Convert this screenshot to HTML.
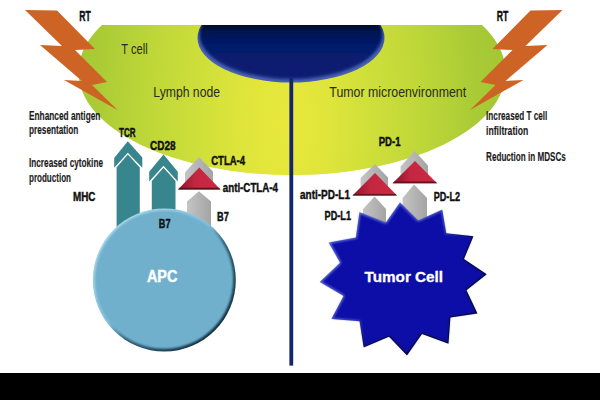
<!DOCTYPE html>
<html><head><meta charset="utf-8"><title>RT immunotherapy diagram</title>
<style>
html,body{margin:0;padding:0;background:#fff;}
body{width:600px;height:400px;overflow:hidden;position:relative;}
svg{display:block;position:absolute;left:0;top:0;}
.b{font-family:"Liberation Sans",sans-serif;font-weight:700;fill:#101010;}
.r{font-family:"Liberation Sans",sans-serif;font-weight:400;fill:#2a2a20;}
.w{font-family:"Liberation Sans",sans-serif;font-weight:700;fill:#fff;}
</style></head><body>
<svg width="600" height="400" viewBox="0 0 600 400">
<defs>
<radialGradient id="gg" gradientUnits="userSpaceOnUse" cx="285" cy="125" r="215" gradientTransform="translate(0 -125) scale(1 2)">
<stop offset="0" stop-color="#e8e83c"/><stop offset="0.2" stop-color="#e0e53b"/><stop offset="0.4" stop-color="#cfdf3a"/><stop offset="0.64" stop-color="#bed738"/><stop offset="0.88" stop-color="#aacb36"/><stop offset="1" stop-color="#a4c735"/>
</radialGradient>
<radialGradient id="ng" gradientUnits="userSpaceOnUse" cx="290" cy="30" r="95" gradientTransform="translate(0 17) scale(1 0.44)">
<stop offset="0" stop-color="#0d1450"/><stop offset="0.7" stop-color="#121a5e"/><stop offset="1" stop-color="#1f3590"/>
</radialGradient>
<radialGradient id="ag" gradientUnits="userSpaceOnUse" cx="158" cy="274" r="78">
<stop offset="0" stop-color="#72b4d4"/><stop offset="0.8" stop-color="#6eb0d0"/><stop offset="0.93" stop-color="#5a9cbe"/><stop offset="1" stop-color="#3f7fa2"/>
</radialGradient>
<linearGradient id="gr" x1="0" x2="1" y1="0" y2="0"><stop offset="0" stop-color="#c4c4c4"/><stop offset="1" stop-color="#a4a4a4"/></linearGradient>
<linearGradient id="rd" x1="0" x2="1" y1="0" y2="0"><stop offset="0" stop-color="#8a142a"/><stop offset="0.4" stop-color="#c42640"/><stop offset="1" stop-color="#cb2a44"/></linearGradient>
<linearGradient id="apcrim" gradientUnits="userSpaceOnUse" x1="110" y1="225" x2="218" y2="335"><stop offset="0" stop-color="#b4dcee"/><stop offset="0.45" stop-color="#86c0da"/><stop offset="0.6" stop-color="#2f6076"/><stop offset="1" stop-color="#0e2a3a"/></linearGradient>
<linearGradient id="starrim" gradientUnits="userSpaceOnUse" x1="340" y1="220" x2="465" y2="340"><stop offset="0" stop-color="#7080e0"/><stop offset="0.45" stop-color="#4858c8"/><stop offset="0.6" stop-color="#0a0e58"/><stop offset="1" stop-color="#04062c"/></linearGradient>
<filter id="bev" x="-5%" y="-5%" width="110%" height="110%"><feMorphology operator="erode" radius="1.2"/><feGaussianBlur stdDeviation="0.9"/></filter>
<linearGradient id="nv" gradientUnits="userSpaceOnUse" x1="0" y1="25" x2="0" y2="83"><stop offset="0" stop-color="#030724"/><stop offset="0.12" stop-color="#051452"/><stop offset="0.35" stop-color="#061a6c"/><stop offset="1" stop-color="#071c72"/></linearGradient>
<filter id="blur1" x="-5%" y="-5%" width="110%" height="110%"><feGaussianBlur stdDeviation="1.3"/></filter>
<clipPath id="nucclip"><ellipse cx="291" cy="38" rx="93.5" ry="44.5"/></clipPath>
<filter id="blur2" x="-5%" y="-10%" width="110%" height="120%"><feGaussianBlur stdDeviation="1.8"/></filter>
<clipPath id="apcclip"><circle cx="164.3" cy="280" r="71.5"/></clipPath>
<clipPath id="topclip"><rect x="0" y="25" width="600" height="375"/></clipPath>
</defs>
<rect width="600" height="400" fill="#fff"/>
<!-- T cell -->
<g clip-path="url(#topclip)">
<ellipse cx="292" cy="72" rx="213.5" ry="103.2" fill="url(#gg)"/>
<ellipse cx="291" cy="38" rx="93.5" ry="44.5" fill="#4a62b4"/>
<g clip-path="url(#nucclip)"><ellipse cx="291" cy="34.5" rx="91.5" ry="44.5" fill="url(#nv)" filter="url(#blur2)"/></g>
</g>
<rect x="289.4" y="78" width="3.8" height="287.6" fill="#14246e"/>
<!-- lightning bolts -->
<polygon id="bolt" points="25,10 57,10.5 95,49 75,50 107,82 92,85 117.5,110 64,80 82,81 40,45 62,46" fill="#cd6426"/>
<use href="#bolt" transform="translate(587.5 0) scale(-1 1)"/>
<!-- teal arrows -->
<g fill="#38868d">
<polygon points="127.8,141.3 142.3,157.5 142.3,167.8 127.8,152.8 114.2,167.8 114.2,158"/>
<polygon points="127.8,154.5 139.8,167.4 139.8,235 116.6,235 116.6,167.4"/>
<polygon points="163.5,154.5 177.8,171.7 177.8,181.6 163.5,165.8 149.2,181.6 149.2,171.7"/>
<polygon points="163.5,167.7 175.5,181 175.5,235 151.8,235 151.8,181"/>
</g>
<!-- grey receptors left -->
<polygon points="198.75,157 213,171.5 213,182 185,182 185,172.5" fill="url(#gr)"/>
<polygon points="198.9,191.2 211,201.5 211,235 187,235 187,201.5" fill="url(#gr)"/>
<polygon points="199.25,167.5 220.5,189.5 178,189.5" fill="url(#rd)"/>
<polygon points="178,189.5 179.7,187.8 218.8,187.8 220.5,189.5" fill="#640e20"/>
<!-- APC -->
<circle cx="164.3" cy="280" r="71.5" fill="url(#apcrim)"/>
<g clip-path="url(#apcclip)"><circle cx="164" cy="279.6" r="69.2" fill="#70b0cd" filter="url(#blur1)"/></g>
<!-- grey receptors right -->
<polygon points="375,164 388,177.5 388,187 360.6,187 360.6,178" fill="url(#gr)"/>
<polygon points="414.6,151 428,165.5 428,176 400.6,176 400.6,166.5" fill="url(#gr)"/>
<polygon points="374.6,196.6 386,209 386,235 363,235 363,209" fill="url(#gr)"/>
<polygon points="414,184.6 427,198 427,230 402.6,230 402.6,198" fill="url(#gr)"/>
<polygon points="375,173 397,195.6 352.5,195.6" fill="url(#rd)"/>
<polygon points="352.5,195.6 354.2,193.9 395.3,193.9 397,195.6" fill="#640e20"/>
<polygon points="415,161 437,183.3 392.6,183.3" fill="url(#rd)"/>
<polygon points="392.6,183.3 394.3,181.6 435.3,181.6 437,183.3" fill="#640e20"/>
<!-- tumor star -->
<polygon points="400,202.3 418.3,220.5 442.3,209.5 446.3,233.2 473.5,236.3 464,259 486.8,274.3 466.5,290.2 477.5,313.6 450.4,317.5 448.5,343.7 422,334 407,355.5 389,336.75 363.7,347.4 359.5,321.2 331.3,319 343.5,296 319.6,282 340,262.7 328.5,242.5 355.8,237.6 359.4,212 385.8,222.5" fill="url(#starrim)"/>
<polygon points="400,202.3 418.3,220.5 442.3,209.5 446.3,233.2 473.5,236.3 464,259 486.8,274.3 466.5,290.2 477.5,313.6 450.4,317.5 448.5,343.7 422,334 407,355.5 389,336.75 363.7,347.4 359.5,321.2 331.3,319 343.5,296 319.6,282 340,262.7 328.5,242.5 355.8,237.6 359.4,212 385.8,222.5" fill="#0b11a8" filter="url(#bev)"/>
<!-- black bar -->
<rect x="0" y="373" width="600" height="27" fill="#000"/>
<!-- text -->
<g class="b" font-size="13.1" stroke="#101010" stroke-width="0.45">
<text x="79.2" y="20.8" font-size="14" textLength="11.5" lengthAdjust="spacingAndGlyphs">RT</text>
<text x="496.8" y="20.8" font-size="14" textLength="11.5" lengthAdjust="spacingAndGlyphs">RT</text>
<text x="29" y="120.1" textLength="71.4" lengthAdjust="spacingAndGlyphs" stroke-width="0.15" fill="#1c1c1c">Enhanced antigen</text>
<text x="29" y="134.4" textLength="49.4" lengthAdjust="spacingAndGlyphs" stroke-width="0.15" fill="#1c1c1c">presentation</text>
<text x="29" y="166.9" textLength="74" lengthAdjust="spacingAndGlyphs" stroke-width="0.15" fill="#1c1c1c">Increased cytokine</text>
<text x="29" y="181.7" textLength="42" lengthAdjust="spacingAndGlyphs" stroke-width="0.15" fill="#1c1c1c">production</text>
<text x="119" y="137" textLength="16.5" lengthAdjust="spacingAndGlyphs">TCR</text>
<text x="150" y="150.2" textLength="25.5" lengthAdjust="spacingAndGlyphs">CD28</text>
<text x="211.25" y="164.5" textLength="33.75" lengthAdjust="spacingAndGlyphs">CTLA-4</text>
<text x="222.8" y="191.5" textLength="55.2" lengthAdjust="spacingAndGlyphs">anti-CTLA-4</text>
<text x="73" y="201.3" textLength="22.5" lengthAdjust="spacingAndGlyphs">MHC</text>
<text x="158.8" y="228" textLength="11.7" lengthAdjust="spacingAndGlyphs">B7</text>
<text x="217" y="220.5" textLength="11.75" lengthAdjust="spacingAndGlyphs">B7</text>
<text x="486.1" y="119.8" textLength="61.3" lengthAdjust="spacingAndGlyphs" stroke-width="0.15" fill="#1c1c1c">Increased T cell</text>
<text x="486.1" y="134.7" textLength="42.1" lengthAdjust="spacingAndGlyphs" stroke-width="0.15" fill="#1c1c1c">infiltration</text>
<text x="486.1" y="160.9" textLength="79.7" lengthAdjust="spacingAndGlyphs" stroke-width="0.15" fill="#1c1c1c">Reduction in MDSCs</text>
<text x="378.75" y="146.25" textLength="21.75" lengthAdjust="spacingAndGlyphs">PD-1</text>
<text x="433.75" y="201.25" textLength="26.25" lengthAdjust="spacingAndGlyphs">PD-L2</text>
<text x="300" y="198.7" textLength="50" lengthAdjust="spacingAndGlyphs">anti-PD-L1</text>
<text x="324.6" y="219.7" textLength="26.4" lengthAdjust="spacingAndGlyphs">PD-L1</text>
</g>
<g class="r" font-size="13.8">
<text x="121.2" y="53.8" textLength="26.5" lengthAdjust="spacingAndGlyphs">T cell</text>
<text x="153.3" y="96.7" textLength="66.7" lengthAdjust="spacingAndGlyphs">Lymph node</text>
<text x="329.3" y="96.7" textLength="136.8" lengthAdjust="spacingAndGlyphs">Tumor microenvironment</text>
</g>
<text class="w" font-size="16" x="146.9" y="282.3" textLength="30.4" stroke="#fff" stroke-width="0.4" lengthAdjust="spacingAndGlyphs">APC</text>
<text class="w" font-size="14.7" x="364.5" y="281.5" textLength="78.6" stroke="#fff" stroke-width="0.3" lengthAdjust="spacingAndGlyphs">Tumor Cell</text>
</svg>
</body></html>
